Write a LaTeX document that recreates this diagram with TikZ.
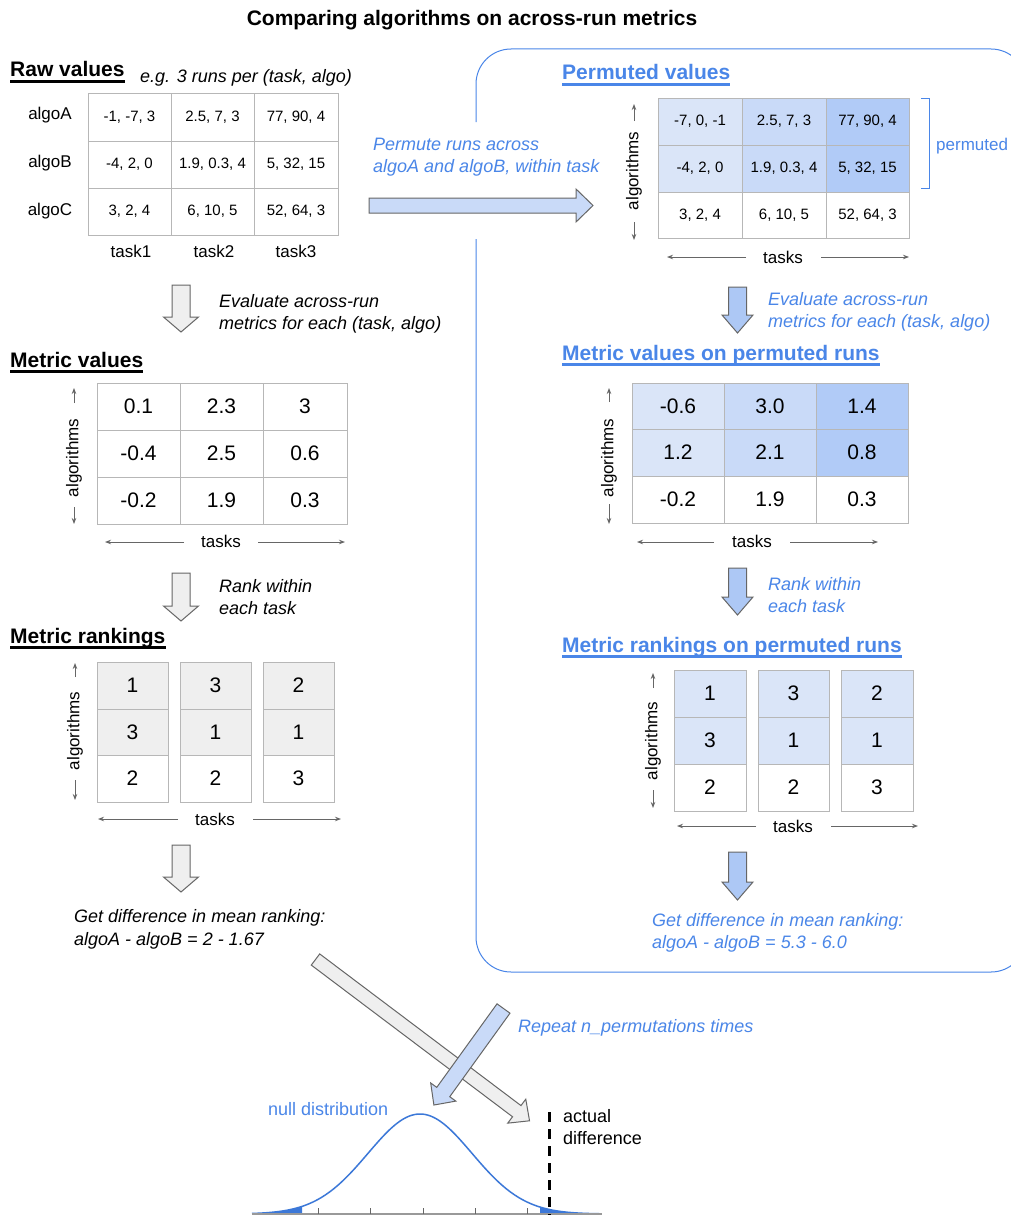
\documentclass[tikz,border=0pt]{standalone}
\usepackage{fontspec}
\setmainfont{Liberation Sans}
\usetikzlibrary{arrows.meta,calc}
\definecolor{gblue}{HTML}{4A86E8}
\definecolor{cellline}{HTML}{B7B7B7}
\definecolor{bA}{HTML}{DAE5F8}
\definecolor{bB}{HTML}{C9DAF8}
\definecolor{bC}{HTML}{B1CBF7}
\definecolor{lgray}{HTML}{EFEFEF}
\definecolor{arrline}{HTML}{666666}
\definecolor{axgray}{HTML}{666666}
\definecolor{varrblue}{HTML}{ADC8F5}
\definecolor{harrblue}{HTML}{C9DAF8}
\definecolor{curveblue}{HTML}{3C78D8}
\newcommand\fsmall{\fontsize{15}{18}\selectfont}
\newcommand\fbig{\fontsize{21}{25}\selectfont}
\newcommand\tcell[7]{%
  \node[cellbase, fill=#6, minimum width={(#4)-(#2)}, minimum height={(#5)-(#3)}] (#1) at ({((#2)+(#4))/2},{((#3)+(#5))/2}) {#7};}
\newcommand\vblock[7]{%
  \draw[#1] ({#2-#5},#3) -- ({#2+#5},#3) -- ({#2+#5},{#4-#7}) -- ({#2+#6},{#4-#7}) -- (#2,#4) -- ({#2-#6},{#4-#7}) -- ({#2-#5},{#4-#7}) -- cycle;}
\newcommand\hdul[2]{%
  \draw[#1, line width=2.2pt] ($(#2.base west)+(0,4.5)$) -- ($(#2.base east)+(0,4.5)$);}
\begin{document}
\begin{tikzpicture}[x=1pt,y=-1pt,
  titlest/.style={font=\fontsize{21}{25}\selectfont\bfseries, inner sep=0, anchor=base},
  heading/.style={font=\fontsize{21}{25}\selectfont\bfseries, inner sep=0, anchor=base west},
  note/.style={font=\fontsize{18}{22}\selectfont\itshape, inner sep=0, anchor=base west},
  bnote/.style={note, text=gblue},
  cellbase/.style={draw=cellline, line width=1pt, inner sep=0},
  axlbl/.style={font=\fontsize{17}{20}\selectfont, inner sep=0},
  axarr/.style={draw=axgray, line width=0.9pt, -{Stealth[length=6pt,width=4.5pt]}},
  rowlbl/.style={font=\fontsize{17}{20}\selectfont, inner sep=0},
  garrow/.style={fill=lgray, draw=arrline, line width=1pt, line join=miter},
  barrow/.style={fill=varrblue, draw=arrline, line width=1pt, line join=miter},
  harrow/.style={fill=harrblue, draw=arrline, line width=1pt, line join=miter}
]
\useasboundingbox (0,0) rectangle (1010,1215);
\fill[white] (0,0) rectangle (1010,1215);

% title
\node[titlest] (title) at (472,26) {Comparing algorithms on across-run metrics};

% ===== permutation frame =====
\draw[gblue, line width=1pt, rounded corners=35pt] (476,122) -- (476,49) -- (1026,49) -- (1026,972) -- (476,972) -- (476,239);

% ===== Raw values =====
\node[heading] (hraw) at (10,77) {Raw values};
\hdul{black}{hraw}
\node[note] (eg) at (140,82) {e.g. 3 runs per (task, algo)};
\tcell{r11}{88}{93}{171}{141}{white}{\fsmall -1, -7, 3}
\tcell{r12}{171}{93}{254}{141}{white}{\fsmall 2.5, 7, 3}
\tcell{r13}{254}{93}{338}{141}{white}{\fsmall 77, 90, 4}
\tcell{r21}{88}{141}{171}{188}{white}{\fsmall -4, 2, 0}
\tcell{r22}{171}{141}{254}{188}{white}{\fsmall 1.9, 0.3, 4}
\tcell{r23}{254}{141}{338}{188}{white}{\fsmall 5, 32, 15}
\tcell{r31}{88}{188}{171}{235}{white}{\fsmall 3, 2, 4}
\tcell{r32}{171}{188}{254}{235}{white}{\fsmall 6, 10, 5}
\tcell{r33}{254}{188}{338}{235}{white}{\fsmall 52, 64, 3}
\node[rowlbl] (la) at (50,115) {algoA};
\node[rowlbl] (lb) at (50,163) {algoB};
\node[rowlbl] (lc) at (50,211) {algoC};
\node[rowlbl] (t1) at (131,251) {task1};
\node[rowlbl] (t2) at (214,251) {task2};
\node[rowlbl] (t3) at (296,251) {task3};

% arrow 1 (gray)
\vblock{garrow}{181}{285}{332}{9}{17.5}{15}
\node[note] (ev1) at (219,307) {Evaluate across-run};
\node[note] (ev2) at (219,329) {metrics for each (task, algo)};

% ===== Metric values =====
\node[heading] (hmv) at (10,367) {Metric values};
\hdul{black}{hmv}
\tcell{m11}{97}{383}{180}{430}{white}{\fbig 0.1}
\tcell{m12}{180}{383}{263}{430}{white}{\fbig 2.3}
\tcell{m13}{263}{383}{347}{430}{white}{\fbig 3}
\tcell{m21}{97}{430}{180}{477}{white}{\fbig -0.4}
\tcell{m22}{180}{430}{263}{477}{white}{\fbig 2.5}
\tcell{m23}{263}{430}{347}{477}{white}{\fbig 0.6}
\tcell{m31}{97}{477}{180}{524}{white}{\fbig -0.2}
\tcell{m32}{180}{477}{263}{524}{white}{\fbig 1.9}
\tcell{m33}{263}{477}{347}{524}{white}{\fbig 0.3}
\node[axlbl, rotate=90] (algM) at (74,458) {algorithms};
\coordinate (algMt) at (74,388); \coordinate (algMts) at (74,403);
\coordinate (algMb) at (74,524); \coordinate (algMbs) at (74,507);
\draw[axarr] (algMts) -- (algMt);
\draw[axarr] (algMbs) -- (algMb);
\node[axlbl] (tkM) at (221,541) {tasks};
\coordinate (tkMl) at (105,542); \coordinate (tkMls) at (184,542);
\coordinate (tkMr) at (345,542); \coordinate (tkMrs) at (258,542);
\draw[axarr] (tkMls) -- (tkMl);
\draw[axarr] (tkMrs) -- (tkMr);

% arrow 2 (gray)
\vblock{garrow}{181}{573}{621}{9}{17.5}{15}
\node[note] (rk1) at (219,592) {Rank within};
\node[note] (rk2) at (219,614) {each task};

% ===== Metric rankings =====
\node[heading] (hmr) at (10,643) {Metric rankings};
\hdul{black}{hmr}
\tcell{k11}{97}{662}{168}{709}{lgray}{\fbig 1}
\tcell{k21}{97}{709}{168}{755}{lgray}{\fbig 3}
\tcell{k31}{97}{755}{168}{802}{white}{\fbig 2}
\tcell{k12}{180}{662}{251}{709}{lgray}{\fbig 3}
\tcell{k22}{180}{709}{251}{755}{lgray}{\fbig 1}
\tcell{k32}{180}{755}{251}{802}{white}{\fbig 2}
\tcell{k13}{263}{662}{334}{709}{lgray}{\fbig 2}
\tcell{k23}{263}{709}{334}{755}{lgray}{\fbig 1}
\tcell{k33}{263}{755}{334}{802}{white}{\fbig 3}
\node[axlbl, rotate=90] (algK) at (75,731) {algorithms};
\coordinate (algKt) at (75,663); \coordinate (algKts) at (75,677);
\coordinate (algKb) at (75,800); \coordinate (algKbs) at (75,780);
\draw[axarr] (algKts) -- (algKt);
\draw[axarr] (algKbs) -- (algKb);
\node[axlbl] (tkK) at (215,819) {tasks};
\coordinate (tkKl) at (98,819); \coordinate (tkKls) at (178,819);
\coordinate (tkKr) at (341,819); \coordinate (tkKrs) at (253,819);
\draw[axarr] (tkKls) -- (tkKl);
\draw[axarr] (tkKrs) -- (tkKr);

% arrow 3 (gray)
\vblock{garrow}{181}{845}{892}{9}{17.5}{15}
\node[note] (gd1) at (74,922) {Get difference in mean ranking:};
\node[note] (gd2) at (74,945) {algoA - algoB = 2 - 1.67};

% ===== Permute arrow =====
\node[bnote] (pm1) at (373,150) {Permute runs across};
\node[bnote] (pm2) at (373,172) {algoA and algoB, within task};
\draw[harrow] (369,198) -- (576,198) -- (576,189) -- (593,205.5) -- (576,222) -- (576,213) -- (369,213) -- cycle;

% ===== Permuted values =====
\node[heading, text=gblue] (hpv) at (562,80) {Permuted values};
\hdul{gblue}{hpv}
\tcell{p11}{658}{98}{742}{145}{bA}{\fsmall -7, 0, -1}
\tcell{p12}{742}{98}{826}{145}{bB}{\fsmall 2.5, 7, 3}
\tcell{p13}{826}{98}{909}{145}{bC}{\fsmall 77, 90, 4}
\tcell{p21}{658}{145}{742}{192}{bA}{\fsmall -4, 2, 0}
\tcell{p22}{742}{145}{826}{192}{bB}{\fsmall 1.9, 0.3, 4}
\tcell{p23}{826}{145}{909}{192}{bC}{\fsmall 5, 32, 15}
\tcell{p31}{658}{192}{742}{238}{white}{\fsmall 3, 2, 4}
\tcell{p32}{742}{192}{826}{238}{white}{\fsmall 6, 10, 5}
\tcell{p33}{826}{192}{909}{238}{white}{\fsmall 52, 64, 3}
\draw[gblue, line width=1pt] (921,98.5) -- (929,98.5) -- (929,188) -- (921,188);
\node[axlbl, text=gblue, anchor=base west] (permlbl) at (936,150) {permuted};
\node[axlbl, rotate=90] (algP) at (634,171) {algorithms};
\coordinate (algPt) at (634,104); \coordinate (algPts) at (634,121);
\coordinate (algPb) at (634,240); \coordinate (algPbs) at (634,222);
\draw[axarr] (algPts) -- (algPt);
\draw[axarr] (algPbs) -- (algPb);
\node[axlbl] (tkP) at (783,257) {tasks};
\coordinate (tkPl) at (667,257); \coordinate (tkPls) at (746,257);
\coordinate (tkPr) at (909,257); \coordinate (tkPrs) at (821,257);
\draw[axarr] (tkPls) -- (tkPl);
\draw[axarr] (tkPrs) -- (tkPr);

% blue arrow 1
\vblock{barrow}{737.5}{287}{333}{9}{15.5}{18}
\node[bnote] (bev1) at (768,305) {Evaluate across-run};
\node[bnote] (bev2) at (768,327) {metrics for each (task, algo)};

% ===== Metric values on permuted runs =====
\node[heading, text=gblue] (hmvp) at (562,360) {Metric values on permuted runs};
\hdul{gblue}{hmvp}
\tcell{q11}{632}{383}{724}{429}{bA}{\fbig -0.6}
\tcell{q12}{724}{383}{816}{429}{bB}{\fbig 3.0}
\tcell{q13}{816}{383}{908}{429}{bC}{\fbig 1.4}
\tcell{q21}{632}{429}{724}{476}{bA}{\fbig 1.2}
\tcell{q22}{724}{429}{816}{476}{bB}{\fbig 2.1}
\tcell{q23}{816}{429}{908}{476}{bC}{\fbig 0.8}
\tcell{q31}{632}{476}{724}{523}{white}{\fbig -0.2}
\tcell{q32}{724}{476}{816}{523}{white}{\fbig 1.9}
\tcell{q33}{816}{476}{908}{523}{white}{\fbig 0.3}
\node[axlbl, rotate=90] (algQ) at (609,458) {algorithms};
\coordinate (algQt) at (609,388); \coordinate (algQts) at (609,402);
\coordinate (algQb) at (609,524); \coordinate (algQbs) at (609,504);
\draw[axarr] (algQts) -- (algQt);
\draw[axarr] (algQbs) -- (algQb);
\node[axlbl] (tkQ) at (752,541) {tasks};
\coordinate (tkQl) at (637,542); \coordinate (tkQls) at (714,542);
\coordinate (tkQr) at (878,542); \coordinate (tkQrs) at (790,542);
\draw[axarr] (tkQls) -- (tkQl);
\draw[axarr] (tkQrs) -- (tkQr);

% blue arrow 2
\vblock{barrow}{737.5}{568}{615}{9}{15.5}{18}
\node[bnote] (brk1) at (768,590) {Rank within};
\node[bnote] (brk2) at (768,612) {each task};

% ===== Metric rankings on permuted runs =====
\node[heading, text=gblue] (hmrp) at (562,652) {Metric rankings on permuted runs};
\hdul{gblue}{hmrp}
\tcell{s11}{674}{670}{746}{717}{bA}{\fbig 1}
\tcell{s21}{674}{717}{746}{764}{bA}{\fbig 3}
\tcell{s31}{674}{764}{746}{811}{white}{\fbig 2}
\tcell{s12}{758}{670}{829}{717}{bA}{\fbig 3}
\tcell{s22}{758}{717}{829}{764}{bA}{\fbig 1}
\tcell{s32}{758}{764}{829}{811}{white}{\fbig 2}
\tcell{s13}{841}{670}{913}{717}{bA}{\fbig 2}
\tcell{s23}{841}{717}{913}{764}{bA}{\fbig 1}
\tcell{s33}{841}{764}{913}{811}{white}{\fbig 3}
\node[axlbl, rotate=90] (algS) at (653,741) {algorithms};
\coordinate (algSt) at (653,673); \coordinate (algSts) at (653,688);
\coordinate (algSb) at (653,808); \coordinate (algSbs) at (653,790);
\draw[axarr] (algSts) -- (algSt);
\draw[axarr] (algSbs) -- (algSb);
\node[axlbl] (tkS) at (793,826) {tasks};
\coordinate (tkSl) at (677,826); \coordinate (tkSls) at (756,826);
\coordinate (tkSr) at (918,826); \coordinate (tkSrs) at (831,826);
\draw[axarr] (tkSls) -- (tkSl);
\draw[axarr] (tkSrs) -- (tkSr);

% blue arrow 3
\vblock{barrow}{737.5}{852}{900}{9}{15.5}{18}
\node[bnote] (bgd1) at (652,926) {Get difference in mean ranking:};
\node[bnote] (bgd2) at (652,948) {algoA - algoB = 5.3 - 6.0};

% ===== distribution =====
\fill[curveblue] plot[domain=252:302,samples=30] (\x,{1214-100*exp(-((\x-420)/52)*((\x-420)/52)/2)}) -- (302,1214) -- (252,1214) -- cycle;
\fill[curveblue] plot[domain=540:600,samples=30] (\x,{1214-100*exp(-((\x-420)/52)*((\x-420)/52)/2)}) -- (600,1214) -- (540,1214) -- cycle;
\draw[curveblue, line width=1.5pt] plot[domain=252:600,samples=150] (\x,{1214-100*exp(-((\x-420)/52)*((\x-420)/52)/2)});
\draw[black!40, line width=1.5pt] (252,1214) -- (602,1214);
\foreach \tx in {318,370,423,475,527} \draw[axgray, line width=1pt] (\tx,1208) -- (\tx,1214);
\draw[black, line width=3pt, dash pattern=on 10pt off 7pt] (549,1112) -- (549,1216);
\node[axlbl, text=gblue, anchor=base west, font=\fontsize{18}{22}\selectfont] (nulld) at (268,1115) {null distribution};
\node[axlbl, anchor=base west, font=\fontsize{18}{22}\selectfont] (act1) at (563,1122) {actual};
\node[axlbl, anchor=base west, font=\fontsize{18}{22}\selectfont] (act2) at (563,1144) {difference};

% diagonal arrows
\begin{scope}[shift={(315.5,959.5)}, rotate=-37]
\draw[garrow] (0,-7) -- (252,-7) -- (252,-15) -- (268,0) -- (252,15) -- (252,7) -- (0,7) -- cycle;
\end{scope}
\begin{scope}[shift={(503.5,1008.5)}, rotate=234.2]
\draw[harrow] (0,-8) -- (103,-8) -- (103,-15.5) -- (119,0) -- (103,15.5) -- (103,8) -- (0,8) -- cycle;
\end{scope}
\node[bnote] (rep) at (518,1032) {Repeat n\_permutations times};
\end{tikzpicture}
\end{document}
